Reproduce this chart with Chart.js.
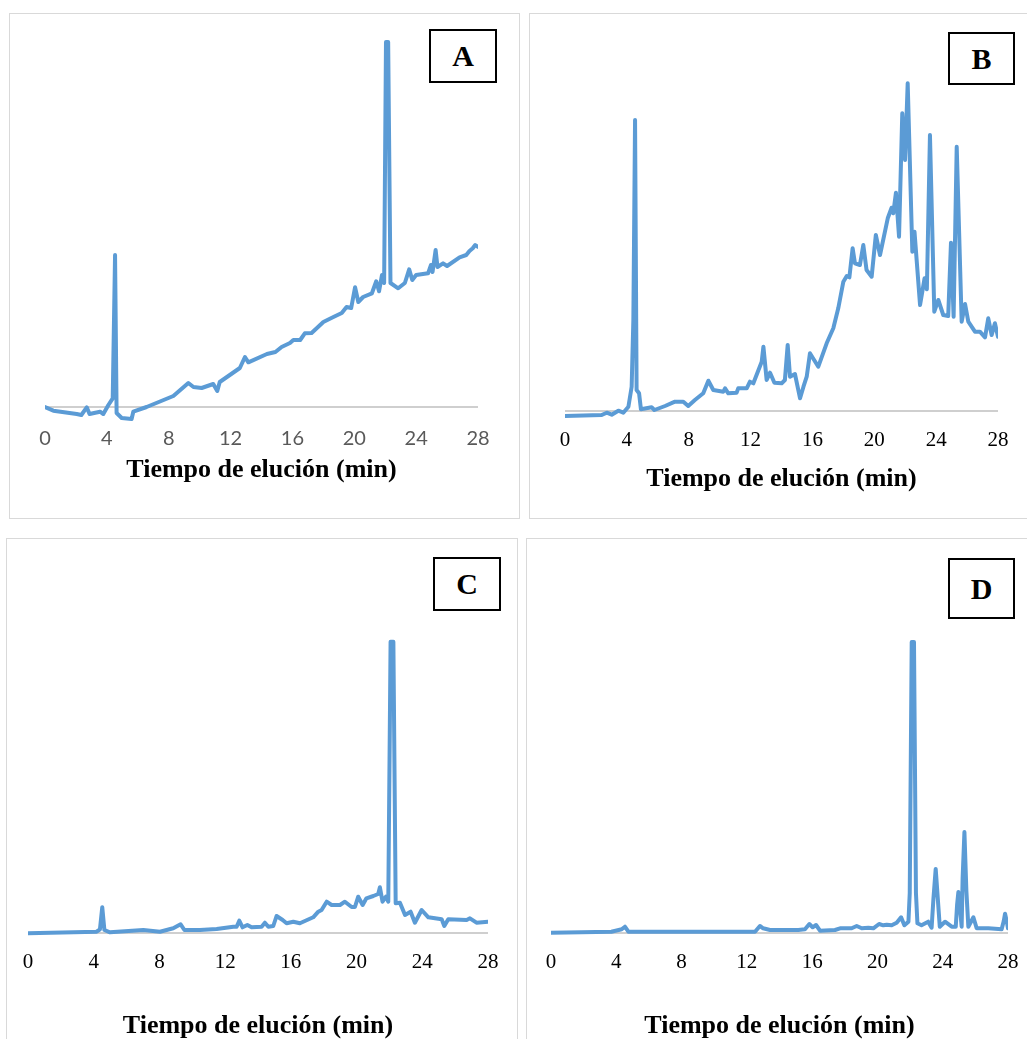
<!DOCTYPE html>
<html lang="es">
<head>
<meta charset="UTF-8">
<title>Cromatogramas A-D</title>
<script src="https://cdn.jsdelivr.net/npm/chart.js@4.4.1/dist/chart.umd.min.js"></script>
<style>
  html, body { margin: 0; padding: 0; background: #fff; width: 1027px; height: 1039px; overflow: hidden; }
  .panel { position: absolute; border: 1px solid #d9d9d9; box-sizing: border-box; background: #fff; }
  .panel canvas { position: absolute; left: 0; top: 0; }
  .etiqueta {
    position: absolute; border: 2px solid #000; box-sizing: border-box; background: #fff;
    font: bold 30px "Liberation Serif", "Times New Roman", serif; color: #000;
    display: flex; align-items: center; justify-content: center;
  }
</style>
</head>
<body>
<script>
// Eje X comun
const tiempoTicks = [0, 4, 8, 12, 16, 20, 24, 28];
const tituloEje = 'Tiempo de elución (min)';

// Cromatograma A
const tiempoA = [0, 0.54, 2.05, 2.35, 2.7, 2.88, 3.56, 3.77, 4.1, 4.38, 4.53, 4.63, 4.96, 5.6, 5.71, 6.57, 8.3, 9.27, 9.6, 10.13, 10.88, 11.14, 11.3, 12.6, 12.93, 13.15, 14.35, 14.9, 15.3, 15.84, 16.06, 16.5, 16.8, 17.24, 18.0, 18.65, 19.19, 19.5, 19.8, 20.05, 20.26, 20.57, 21.14, 21.42, 21.6, 21.79, 21.93, 22.05, 22.19, 22.34, 22.84, 23.27, 23.55, 23.75, 24.0, 24.77, 24.96, 25.06, 25.26, 25.38, 25.74, 26.0, 26.81, 27.24, 27.45, 27.66, 27.82, 28.0];
const senalA  = [0, -3.7, -7, -8, -0.3, -7, -4.7, -7, 2, 8.7, 152, -6, -11, -12, -4.7, 0, 11, 24, 20, 19, 23, 16, 25, 39, 50, 44.7, 53, 55, 60, 64, 67, 67, 73.7, 74, 85, 90, 94, 100, 99, 119.7, 105, 110, 113.7, 125.7, 115.7, 132, 124, 365, 365, 124, 118.7, 124, 137.7, 127, 132, 133.7, 142, 135, 157, 140, 143.7, 141, 149.7, 152, 156, 158.7, 162, 160];

// Cromatograma B
const tiempoB = [0, 2.37, 2.7, 3.02, 3.45, 3.77, 4.1, 4.31, 4.42, 4.53, 4.63, 4.79, 4.91, 5.6, 5.78, 6.47, 7.11, 7.65, 7.97, 8.4, 8.94, 9.27, 9.59, 10.24, 10.35, 10.56, 11.1, 11.2, 11.75, 11.96, 12.18, 12.72, 12.83, 13.04, 13.26, 13.54, 14.01, 14.22, 14.4, 14.55, 14.87, 15.2, 15.42, 15.63, 15.84, 16.38, 16.92, 17.35, 17.67, 18.0, 18.22, 18.39, 18.6, 18.75, 19.07, 19.29, 19.5, 19.83, 20.1, 20.37, 20.87, 21.12, 21.23, 21.4, 21.6, 21.81, 21.99, 22.16, 22.46, 22.6, 22.96, 23.25, 23.4, 23.6, 23.88, 24.14, 24.46, 24.78, 24.96, 25.13, 25.33, 25.65, 25.87, 26.08, 26.51, 26.83, 27.16, 27.37, 27.59, 27.8, 28.0];
const senalB  = [-5, -4, -1.7, -3.7, 0.3, -1.7, 4.3, 24.3, 91, 291, 21, 17.7, 1.7, 3.7, 1, 5, 9.3, 9.3, 5, 11, 17.7, 30.3, 21, 19.3, 22.7, 17.7, 18.3, 22.7, 22.7, 29.3, 27.7, 49.3, 64.3, 31, 38.3, 28.3, 27.7, 31, 66, 34.3, 37, 12.7, 24.3, 34.3, 57.7, 44.3, 67.7, 82.7, 102.7, 129.3, 135, 133.7, 162.7, 147.7, 146, 166, 141, 134.3, 176, 156, 192.7, 203.3, 197.7, 218.3, 174.3, 297.7, 251, 327.7, 159.3, 179.3, 106, 132.7, 121.7, 276, 99.3, 111, 96, 95, 168.3, 94.3, 264.3, 89.3, 107, 89.3, 79.3, 79.3, 73.7, 92.7, 76, 87.7, 74.3];

// Cromatograma C
const tiempoC = [0, 4.18, 4.38, 4.52, 4.65, 4.99, 7.02, 8.03, 8.84, 9.29, 9.52, 10.47, 11.48, 12.5, 12.7, 12.86, 13.06, 13.35, 13.61, 14.22, 14.42, 14.63, 14.93, 15.13, 15.5, 15.74, 16.15, 16.55, 17.36, 17.67, 17.87, 18.18, 18.48, 18.99, 19.29, 19.7, 19.9, 20.1, 20.37, 20.6, 21.02, 21.32, 21.42, 21.58, 21.79, 21.93, 22.07, 22.24, 22.38, 22.64, 22.95, 23.29, 23.55, 23.96, 24.37, 25.18, 25.34, 25.58, 26.7, 26.9, 27.3, 28.0];
const senalC  = [-0.3, 1.3, 3.7, 25.7, 3, 0.7, 3, 1.3, 4.7, 8.7, 3, 3, 4, 6.3, 6.3, 12.3, 5.7, 8, 5.7, 6.3, 10.3, 6.3, 7, 17, 13, 9.7, 11.3, 9.7, 15.7, 21.3, 23, 31.3, 28, 28, 31.3, 26, 26, 36.3, 28, 34.7, 37, 39, 45.7, 31.3, 36.3, 31.3, 291.3, 291.3, 29.7, 30.3, 18, 21.3, 10.3, 23, 15.7, 13.7, 7, 13.7, 13, 14.7, 10.3, 11.3];

// Cromatograma D
const tiempoD = [0, 3.7, 4.33, 4.53, 4.74, 12.5, 12.8, 13.0, 13.42, 15.15, 15.56, 15.83, 16.03, 16.24, 16.48, 17.4, 17.71, 18.42, 18.73, 19.04, 19.44, 19.75, 20.1, 20.36, 20.57, 20.87, 21.18, 21.45, 21.65, 21.9, 21.98, 22.1, 22.24, 22.36, 22.45, 22.7, 23.11, 23.32, 23.43, 23.57, 23.7, 23.82, 24.14, 24.55, 24.8, 24.88, 24.96, 25.06, 25.16, 25.22, 25.33, 25.45, 25.57, 25.88, 26.08, 26.8, 27.61, 27.74, 27.82, 27.92, 28.0];
const senalD  = [0.3, 1.3, 3.7, 6.3, 1.3, 1.3, 7, 4.7, 3, 3, 3.7, 9, 5.7, 8, 2.3, 3, 4.7, 4.7, 7, 4.7, 5.3, 4.7, 9, 7.7, 8.3, 7.7, 10.3, 15.7, 7.7, 11.3, 40, 291, 291, 40, 9.7, 7.7, 11.3, 5.3, 34, 64, 34, 6.3, 11.3, 6.3, 6.3, 28, 41, 25, 6.3, 55, 101, 42, 6.3, 15.7, 4.7, 4.7, 3.7, 12, 19.3, 12, 4.7];

const paneles = [
  { letra: 'A', tiempo: tiempoA, senal: senalA, yMin: -15, yMax: 370,
    box: [9, 13, 511, 506], area: [45, 37, 478, 422], tickY: 439, titleY: 470, label: [429, 29, 68, 54],
    tickFont: { family: 'Lato, "Liberation Sans", sans-serif', size: 20, lineHeight: 1 }, tickColor: '#595959' },
  { letra: 'B', tiempo: tiempoB, senal: senalB, yMin: -8, yMax: 370,
    box: [529, 13, 520, 506], area: [565, 41, 998, 419], tickY: 440, titleY: 479, label: [948, 32, 67, 53],
    tickFont: { family: '"Liberation Serif", "Times New Roman", serif', size: 21, lineHeight: 1 }, tickColor: '#000' },
  { letra: 'C', tiempo: tiempoC, senal: senalC, yMin: -5, yMax: 368,
    box: [6, 538, 512, 520], area: [28, 565, 488, 938], tickY: 962, titleY: 1026, label: [433, 557, 68, 54],
    tickFont: { family: '"Liberation Serif", "Times New Roman", serif', size: 21, lineHeight: 1 }, tickColor: '#000' },
  { letra: 'D', tiempo: tiempoD, senal: senalD, yMin: -5, yMax: 368,
    box: [526, 538, 520, 520], area: [551, 565, 1008, 938], tickY: 962, titleY: 1026, label: [948, 558, 67, 61],
    tickFont: { family: '"Liberation Serif", "Times New Roman", serif', size: 21, lineHeight: 1 }, tickColor: '#000' }
];

const titleFont = { family: '"Liberation Serif", "Times New Roman", serif', size: 26, weight: 'bold', lineHeight: 1 };

paneles.forEach(p => {
  const div = document.createElement('div');
  div.className = 'panel';
  div.style.left = p.box[0] + 'px';
  div.style.top = p.box[1] + 'px';
  div.style.width = p.box[2] + 'px';
  div.style.height = p.box[3] + 'px';
  document.body.appendChild(div);

  const canvas = document.createElement('canvas');
  const cw = p.box[2] - 2, ch = p.box[3] - 2;
  canvas.width = cw;
  canvas.height = ch;
  canvas.style.width = cw + 'px';
  canvas.style.height = ch + 'px';
  div.appendChild(canvas);

  // el eje x reserva dos veces el padding de las marcas
  const ox = p.box[0] + 1, oy = p.box[1] + 1;
  const tickLH = p.tickFont.size;
  const titleLH = titleFont.size;
  const tickPad = p.tickY - p.area[3] - tickLH / 2;
  const titlePad = p.titleY - titleLH / 2 - p.area[3] - 2 * tickPad - tickLH;
  const axisH = 2 * tickPad + tickLH + titlePad + titleLH;

  new Chart(canvas, {
    type: 'line',
    data: {
      datasets: [{
        data: p.tiempo.map((t, i) => ({ x: t, y: p.senal[i] })),
        borderColor: '#5B9BD5',
        borderWidth: 4,
        borderJoinStyle: 'round',
        borderCapStyle: 'round',
        pointRadius: 0,
        tension: 0
      }, {
        // linea del eje en cero
        data: [{ x: 0, y: 0 }, { x: 28, y: 0 }],
        borderColor: '#BFBFBF',
        borderWidth: 1.5,
        pointRadius: 0
      }]
    },
    options: {
      responsive: false,
      animation: false,
      layout: {
        padding: {
          left: p.area[0] - ox,
          right: ox + cw - p.area[2],
          top: p.area[1] - oy,
          bottom: oy + ch - (p.area[3] + axisH)
        }
      },
      plugins: { legend: { display: false }, tooltip: { enabled: false } },
      scales: {
        x: {
          type: 'linear', min: 0, max: 28,
          afterBuildTicks: s => { s.ticks = tiempoTicks.map(v => ({ value: v })); },
          grid: { display: false, drawTicks: false },
          border: { display: false },
          ticks: { font: p.tickFont, color: p.tickColor, padding: tickPad, maxRotation: 0 },
          title: { display: true, text: tituloEje, font: titleFont, color: '#000', padding: { top: titlePad, bottom: 0 } }
        },
        y: { display: false, min: p.yMin, max: p.yMax }
      }
    }
  });

  const lab = document.createElement('div');
  lab.className = 'etiqueta';
  lab.style.left = p.label[0] + 'px';
  lab.style.top = p.label[1] + 'px';
  lab.style.width = p.label[2] + 'px';
  lab.style.height = p.label[3] + 'px';
  lab.textContent = p.letra;
  document.body.appendChild(lab);
});
</script>
</body>
</html>
